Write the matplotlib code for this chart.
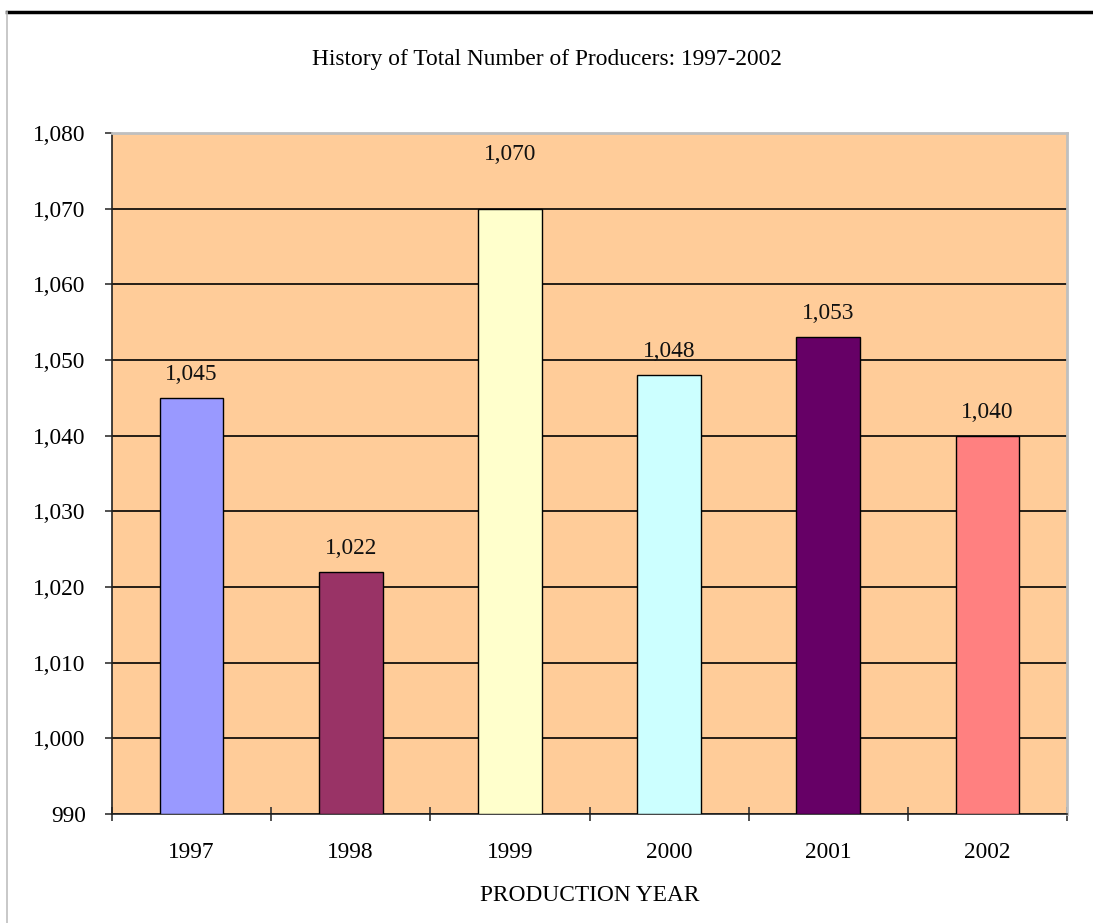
import matplotlib
matplotlib.use("Agg")
import matplotlib.pyplot as plt
from matplotlib.lines import Line2D
from matplotlib.ticker import FuncFormatter, MultipleLocator, FixedLocator

years = ["1997", "1998", "1999", "2000", "2001", "2002"]
producers = [1045, 1022, 1070, 1048, 1053, 1040]
bar_colors = ["#9999FF", "#993366", "#FFFFCC", "#CCFFFF", "#660066", "#FF8080"]
title = "History of Total Number of Producers: 1997-2002"
xlabel = "PRODUCTION YEAR"

plt.rcParams['font.family'] = ['Liberation Serif', 'DejaVu Serif']
FS = 16.8

fig = plt.figure(figsize=(10.93, 9.23), dpi=100)
ax = fig.add_axes([0.1025, 0.1181, 0.9762 - 0.1025, 0.8559 - 0.1181])
ax.set_facecolor("#FFCC99")

x = list(range(len(years)))
ax.bar(x, [p - 990 for p in producers], bottom=990, width=0.4,
       color=bar_colors, edgecolor="#000000", linewidth=1.0, zorder=3)

ymax = 1080
for xi, p in zip(x, producers):
    # label near the top of the axis is pushed up (as in the original)
    off = 39 if p >= ymax - 10 else 17
    ax.annotate(f"{p:,}", (xi, p), xytext=(0, off), textcoords="offset points",
                ha="center", va="center", fontsize=FS, color="#111111", zorder=4)

ax.set_xlim(-0.5, len(years) - 0.5)
ax.set_ylim(990, ymax)
ax.yaxis.set_major_locator(MultipleLocator(10))
ax.yaxis.set_major_formatter(FuncFormatter(lambda v, _: f"{int(v):,}"))
ax.grid(axis="y", color="#000000", linewidth=1.2, zorder=1)

ax.set_xticks(x)
ax.set_xticklabels(years)
ax.xaxis.set_minor_locator(FixedLocator([i - 0.5 for i in range(len(years) + 1)]))
ax.tick_params(axis="x", which="major", length=0, pad=20, labelsize=FS)
ax.tick_params(axis="x", which="minor", direction="inout", length=10, width=1.2, color="#333333")
ax.tick_params(axis="y", which="major", direction="out", length=5, width=1.2,
               pad=14, labelsize=FS, color="#333333")

for s in ["left", "bottom"]:
    ax.spines[s].set_color("#222222")
    ax.spines[s].set_linewidth(1.2)
for s in ["top", "right"]:
    ax.spines[s].set_color("#BFBFBF")
    ax.spines[s].set_linewidth(2)

ax.set_xlabel(xlabel, fontsize=FS, labelpad=16)

fig.text(0.5, 0.936, title, ha="center", va="center", fontsize=FS)

# outer frame lines
fig.add_artist(Line2D([7 / 1093, 1.0], [1 - 11.5 / 923] * 2, color="#000000", linewidth=2.5))
fig.add_artist(Line2D([7 / 1093] * 2, [0, 1 - 11.5 / 923], color="#BFBFBF", linewidth=1.2))

fig.savefig("out.png", dpi=100)
